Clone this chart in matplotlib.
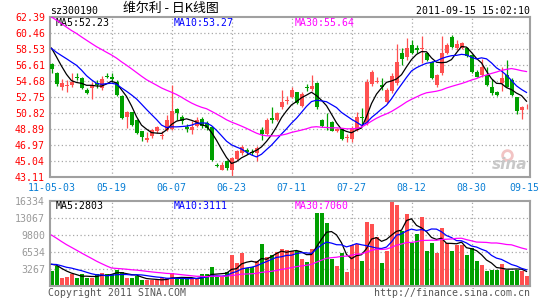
import numpy as np
import matplotlib.pyplot as plt

# closes / volumes of the 29 sessions before 11-05-03 (only feed the moving averages)
prior_close = [65.8, 66.5, 67.2, 66.9, 65.6, 66.3, 65.1, 66.0, 65.8, 64.8,
               65.4, 64.7, 64.3, 63.6, 63.1, 62.4, 61.8, 61.3, 60.4, 58.7,
               59.0, 58.3, 58.0, 58.6, 58.9, 59.6, 59.9, 59.2, 58.4]
prior_vol = [22000, 20500, 19800, 18200, 17500, 18800, 17100, 16900, 18300, 16500,
             15800, 14600, 5200, 4700, 4100, 4600, 3900, 4400, 4800, 4300,
             4300, 3900, 4600, 4000, 4050, 4700, 4500, 4370, 4400]

# daily k-line 11-05-03 .. 11-09-15
opens = [56.7, 55.7, 54.0, 54.1, 54.2, 55.2, 55.0, 53.6, 53.8, 54.4,
         53.8, 55.3, 55.1, 54.6, 52.9, 50.3, 50.9, 50.0, 48.6, 47.6,
         48.0, 48.6, 48.1, 48.8, 48.9, 51.3, 50.3, 49.1, 48.8, 49.3,
         50.1, 49.6, 49.1, 44.5, 44.0, 45.0, 44.0, 45.3, 46.0, 46.4,
         46.1, 46.0, 48.8, 48.3, 50.2, 50.0, 51.5, 52.3, 52.8, 53.3,
         51.7, 54.0, 53.7, 54.4, 50.0, 49.9, 49.7, 48.7, 48.9, 47.8,
         47.7, 48.8, 50.3, 49.6, 54.3, 54.6, 54.2, 52.1, 53.5, 54.4,
         58.0, 57.6, 59.0, 58.6, 58.5, 58.0, 57.0, 54.2, 55.6, 58.1,
         60.0, 58.6, 58.6, 58.7, 57.8, 55.8, 55.4, 55.4, 54.0, 53.4,
         54.4, 55.4, 54.8, 52.7, 51.2, 51.5]
highs = [56.9, 55.8, 54.9, 54.8, 55.6, 55.6, 55.2, 53.8, 54.6, 54.8,
         55.3, 55.7, 55.7, 54.8, 53.0, 51.1, 51.0, 50.1, 48.7, 48.5,
         48.9, 49.2, 48.6, 50.6, 54.2, 51.4, 50.6, 49.5, 49.9, 50.3,
         50.3, 49.8, 49.2, 44.8, 44.9, 45.1, 45.5, 46.4, 47.0, 46.6,
         46.5, 46.8, 49.1, 50.2, 51.5, 51.0, 53.6, 52.9, 53.9, 53.4,
         53.3, 54.3, 55.4, 54.5, 50.1, 50.8, 49.8, 49.0, 49.0, 48.3,
         49.2, 50.9, 51.4, 54.9, 56.0, 55.1, 55.0, 53.8, 55.6, 59.1,
         58.6, 59.8, 59.6, 59.0, 60.1, 58.2, 57.1, 55.5, 60.1, 59.2,
         60.2, 59.6, 59.4, 58.8, 57.9, 56.0, 57.3, 56.4, 54.9, 53.5,
         56.4, 57.2, 55.0, 52.8, 51.7, 51.9]
lows = [55.7, 54.1, 53.6, 53.4, 54.0, 54.8, 53.7, 53.1, 52.5, 53.8,
        53.6, 55.0, 54.5, 52.9, 50.1, 49.0, 49.3, 48.3, 47.5, 47.3,
        47.8, 48.4, 47.7, 48.7, 48.8, 50.0, 49.5, 48.5, 48.3, 49.1,
        49.0, 48.8, 45.0, 44.3, 43.9, 44.0, 43.11, 45.2, 45.8, 45.9,
        45.8, 45.0, 47.6, 48.2, 49.6, 49.9, 51.3, 51.9, 52.6, 51.9,
        51.6, 53.5, 53.5, 51.3, 49.1, 48.8, 48.6, 48.5, 47.6, 47.3,
        47.3, 48.6, 49.4, 49.4, 54.1, 54.4, 53.6, 52.0, 53.2, 54.2,
        56.6, 57.2, 57.9, 58.0, 56.8, 57.1, 54.9, 54.0, 55.4, 57.9,
        58.7, 58.4, 58.5, 57.6, 55.7, 55.1, 55.2, 54.1, 53.0, 52.9,
        53.5, 53.9, 52.9, 50.7, 50.1, 51.3]
closes = [56.1, 54.3, 54.4, 54.2, 54.6, 55.0, 53.8, 53.2, 54.2, 54.2,
          54.9, 55.1, 54.9, 53.0, 50.2, 50.9, 49.4, 48.4, 47.9, 47.8,
          48.8, 49.1, 48.2, 50.0, 51.1, 50.8, 49.8, 48.9, 49.1, 50.0,
          49.2, 49.0, 45.1, 44.4, 44.6, 44.2, 45.4, 46.2, 46.7, 46.1,
          46.0, 46.6, 48.3, 50.0, 50.0, 50.8, 52.2, 52.4, 53.6, 52.0,
          53.1, 53.8, 54.1, 51.6, 49.2, 49.8, 48.7, 48.9, 47.7, 47.9,
          49.0, 50.3, 50.2, 54.5, 55.8, 54.7, 54.0, 53.6, 55.3, 57.0,
          57.3, 58.7, 58.0, 58.4, 58.7, 57.2, 55.0, 55.4, 58.1, 59.0,
          58.8, 59.1, 59.2, 57.7, 55.8, 55.2, 56.4, 54.2, 53.2, 53.0,
          55.0, 54.0, 53.0, 51.1, 51.5, 51.6]
volumes = [2880, 3900, 1450, 1750, 2400, 1450, 2400, 1450, 1450, 2400,
           2550, 2350, 2350, 3000, 2600, 1550, 1450, 1950, 1100, 1100,
           1100, 1100, 1500, 1450, 2500, 1400, 1400, 1400, 1400, 1400,
           2290, 2290, 3720, 1760, 1760, 2740, 6000, 4400, 6300, 3400,
           3700, 4900, 8100, 5600, 6000, 6600, 7200, 7000, 6660, 6660,
           5230, 4570, 7100, 13980, 13980, 12020, 5230, 3920, 6400, 2744,
           7970, 8100, 4840, 12280, 11890, 9400, 4500, 6700, 16334, 15600,
           10500, 13800, 8300, 10060, 13200, 6800, 8300, 6400, 11240, 8300,
           6660, 7970, 7970, 5880, 7320, 4840, 4050, 2875, 3000, 3000,
           4180, 3100, 2975, 3100, 2844, 1995]

tick_labels = ['11-05-03', '05-19', '06-07', '06-23', '07-11', '07-27', '08-12', '08-30', '09-15']
price_top, price_bottom = 62.39, 43.11
vol_top = 16334


def ma(prior, vals, n):
    s = np.concatenate([prior, vals]).astype(float)
    m = np.convolve(s, np.ones(n) / n, mode='valid')
    return m[-len(vals):]


o = np.array(opens); h = np.array(highs); l = np.array(lows); c = np.array(closes)
v = np.array(volumes, dtype=float)
x = np.arange(len(c))
up = c >= o
RED = '#ff5050'
GREEN = '#00a000'
cols = np.where(up, RED, GREEN)

W, H = 545, 300
fig = plt.figure(figsize=(W / 100, H / 100), dpi=100)
fig.patch.set_facecolor('white')
mono = 'DejaVu Sans Mono'
fs = 7.1


def box(l_, t_, r_, b_):
    return [l_ / W, 1 - b_ / H, (r_ - l_) / W, (b_ - t_) / H]


ax = fig.add_axes(box(50, 17, 530, 177))
axv = fig.add_axes(box(50, 201, 530, 286))

xmin, xmax = -0.3, len(c) - 0.3
grid_x = list(range(12, len(c) - 1, 12))
dots = (0, (1, 2))

for a in (ax, axv):
    a.set_xlim(xmin, xmax)
    for s in a.spines.values():
        s.set_color('#a0a0a0')
        s.set_linewidth(1.5)
    a.tick_params(length=0)
    a.set_xticks([])
    for gx in grid_x:
        a.axvline(gx, color='#a8a8a8', lw=0.9, ls=dots, zorder=0)

# price panel
ax.set_ylim(price_bottom, price_top)
pticks = np.linspace(price_bottom, price_top, 11)
for yv in pticks[1:-1]:
    ax.axhline(yv, color='#a8a8a8', lw=0.9, ls=dots, zorder=0)
ax.set_yticks(pticks)
ax.set_yticklabels(['%.2f' % t for t in pticks], color='#ff0000', family=mono, fontsize=fs)
ax.tick_params(axis='y', pad=3.6)

ax.vlines(x, l, h, colors=cols, lw=0.9, zorder=2)
body = np.maximum(np.abs(c - o), 0.06)
ax.bar(x, body, bottom=np.minimum(o, c), width=0.8, color=cols, lw=0, zorder=3)

ax.plot(x, ma(prior_close, c, 5), color='black', lw=0.9, zorder=4)
ax.plot(x, ma(prior_close, c, 10), color='#0000ff', lw=0.9, zorder=4)
ax.plot(x, ma(prior_close, c, 30), color='#ff00ff', lw=0.9, zorder=4)

ax.text(0.011, 0.962, 'MA5:52.23', transform=ax.transAxes, color='black', family=mono, fontsize=fs, va='center')
ax.text(0.258, 0.962, 'MA10:53.27', transform=ax.transAxes, color='#0000ff', family=mono, fontsize=fs, va='center')
ax.text(0.510, 0.962, 'MA30:55.64', transform=ax.transAxes, color='#ff00ff', family=mono, fontsize=fs, va='center')

# sina watermark
ax.plot([0.953], [0.14], transform=ax.transAxes, marker='o', ms=7, mfc='none', mec='#f2c4c4', mew=2, zorder=1)
ax.text(0.995, 0.03, 'sina', transform=ax.transAxes, color='#c8c8c8', fontsize=11,
        fontweight='bold', style='italic', ha='right', va='bottom', zorder=1)

# date labels
date_x = [0] + grid_x + [len(c) - 1.5]
for i, lab in zip(date_x, tick_labels):
    ax.text(i, -0.069, lab, transform=ax.get_xaxis_transform(), ha='center', va='center',
            color='#0a7fd5', family=mono, fontsize=fs)

# volume panel
axv.set_ylim(0, vol_top)
vticks = np.linspace(0, vol_top, 6)
for yv in vticks[1:-1]:
    axv.axhline(yv, color='#a8a8a8', lw=0.9, ls=dots, zorder=0)
axv.set_yticks(vticks[1:])
axv.set_yticklabels(['%d' % round(t) for t in vticks[1:]], color='#999999', family=mono, fontsize=fs)
axv.tick_params(axis='y', pad=3.6)
axv.bar(x, v, width=0.8, color=cols, lw=0, zorder=2)
axv.plot(x, ma(prior_vol, v, 5), color='black', lw=0.9, zorder=4)
axv.plot(x, ma(prior_vol, v, 10), color='#0000ff', lw=0.9, zorder=4)
axv.plot(x, ma(prior_vol, v, 30), color='#ff00ff', lw=0.9, zorder=4)
axv.text(0.011, 0.94, 'MA5:2803', transform=axv.transAxes, color='black', family=mono, fontsize=fs, va='center')
axv.text(0.258, 0.94, 'MA10:3111', transform=axv.transAxes, color='#0000ff', family=mono, fontsize=fs, va='center')
axv.text(0.510, 0.94, 'MA30:7060', transform=axv.transAxes, color='#ff00ff', family=mono, fontsize=fs, va='center')

# header / footer
fig.text(50 / W, 1 - 11 / H, 'sz300190', family=mono, fontsize=fs, va='center')
fig.text(171 / W, 1 - 8.5 / H, '维尔利 - 日K线图', family=['Noto Sans CJK SC', 'DejaVu Sans'],
         fontsize=9.3, ha='center', va='center')
fig.text(530 / W, 1 - 11 / H, '2011-09-15 15:02:10', family=mono, fontsize=fs, ha='right', va='center')
fig.text(48 / W, 1 - 293 / H, 'Copyright 2011 SINA.COM', family=mono, fontsize=fs, color='#555555', va='center')
fig.text(530 / W, 1 - 293 / H, 'http://finance.sina.com.cn', family=mono, fontsize=fs, color='#555555',
         ha='right', va='center')

fig.savefig('out.png', dpi=100, facecolor='white')
